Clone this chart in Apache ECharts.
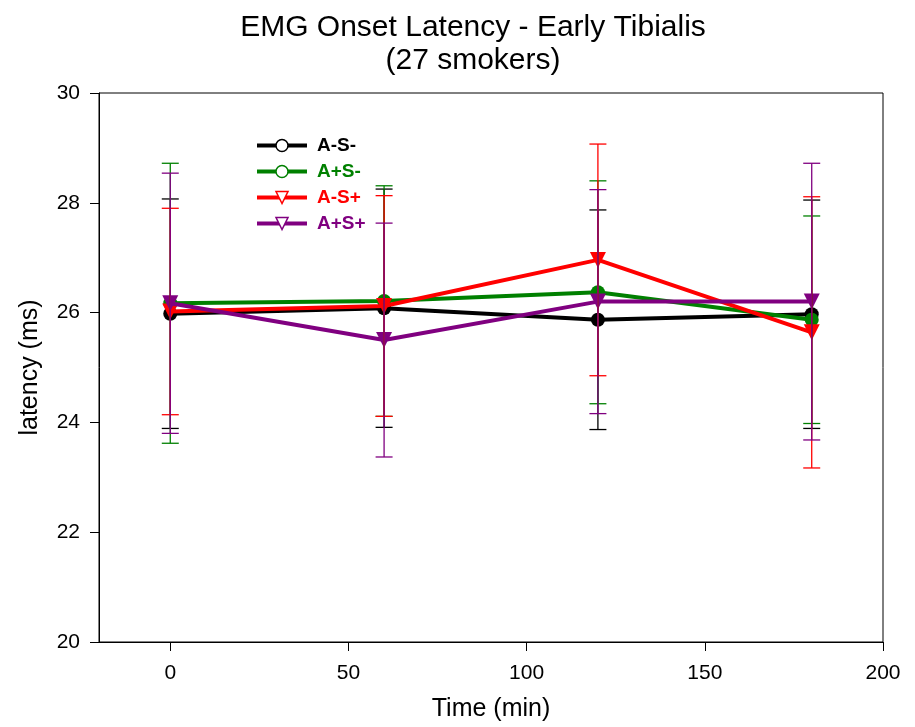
<!DOCTYPE html>
<html>
<head>
<meta charset="utf-8">
<script src="https://cdn.jsdelivr.net/npm/echarts@6/dist/echarts.min.js"></script>
<style>html,body{margin:0;padding:0;background:#fff}#c{width:915px;height:727px}</style>
</head>
<body>
<div id="c"></div>
<script>
var times = [0, 60, 120, 180];
var xTicks = [0, 50, 100, 150, 200];
var names = ['A-S-', 'A+S-', 'A-S+', 'A+S+'];
var colors = ['#000000', '#008000', '#ff0000', '#800080'];
var symbols = ['circle', 'circle', 'triangle', 'triangle'];
var meanAmSm = [25.98, 26.08, 25.87, 25.97];
var errAmSm  = [2.09, 2.17, 2.00, 2.08];
var meanApSm = [26.17, 26.21, 26.37, 25.87];
var errApSm  = [2.55, 2.10, 2.03, 1.89];
var meanAmSp = [26.02, 26.12, 26.96, 25.64];
var errAmSp  = [1.88, 2.01, 2.11, 2.47];
var meanApSp = [26.17, 25.50, 26.20, 26.20];
var errApSp  = [2.37, 2.13, 2.04, 2.52];

var means = [meanAmSm, meanApSm, meanAmSp, meanApSp];
var errs = [errAmSm, errApSm, errAmSp, errApSp];

var chart = echarts.init(document.getElementById('c'));
var font = 'Liberation Sans, Arial, sans-serif';
var series = [];
names.forEach(function (n, i) {
  series.push({
    name: n, type: 'line',
    data: times.map(function (t, k) { return [t, means[i][k]]; }),
    symbol: symbols[i], symbolRotate: symbols[i] === 'triangle' ? 180 : 0,
    symbolSize: symbols[i] === 'triangle' ? 16 : 14,
    lineStyle: { color: colors[i], width: 4 },
    itemStyle: { color: colors[i] },
    z: 2 + i
  });
});
names.forEach(function (n, i) {
  series.push({
    type: 'custom', name: n + ' err', silent: true, z: 10 + i,
    data: times.map(function (t, k) { return [t, means[i][k] - errs[i][k], means[i][k] + errs[i][k]]; }),
    renderItem: function (params, api) {
      var x = api.value(0);
      var lo = api.coord([x, api.value(1)]);
      var hi = api.coord([x, api.value(2)]);
      var w = 8.5;
      var st = { stroke: colors[i], lineWidth: 1.3 };
      return { type: 'group', children: [
        { type: 'line', shape: { x1: lo[0], y1: lo[1], x2: hi[0], y2: hi[1] }, style: st },
        { type: 'line', shape: { x1: lo[0] - w, y1: lo[1], x2: lo[0] + w, y2: lo[1] }, style: st },
        { type: 'line', shape: { x1: hi[0] - w, y1: hi[1], x2: hi[0] + w, y2: hi[1] }, style: st }
      ]};
    }
  });
});

chart.setOption({
  animation: false,
  backgroundColor: '#fff',
  title: [
    { text: 'EMG Onset Latency - Early Tibialis', left: 468, top: 8, textAlign: 'center',
      textStyle: { fontFamily: font, fontSize: 30, fontWeight: 'normal', color: '#000' } },
    { text: '(27 smokers)', left: 468, top: 41, textAlign: 'center',
      textStyle: { fontFamily: font, fontSize: 30, fontWeight: 'normal', color: '#000' } }
  ],
  legend: {
    orient: 'vertical', left: 255, top: 136, padding: 0, itemWidth: 50, itemHeight: 15, itemGap: 7,
    data: names.map(function (n, i) {
      return { name: n,
        textStyle: { color: colors[i], fontWeight: 'bold', fontSize: 19, fontFamily: font, padding: [0, 0, 0, 5] },
        lineStyle: { color: colors[i], width: 4 },
        itemStyle: { color: '#fff', borderColor: colors[i], borderWidth: 1.5 } };
    })
  },
  grid: { left: 99, right: 32, top: 93, bottom: 84, show: true, borderColor: '#000', borderWidth: 1 },
  xAxis: {
    type: 'value', min: -20, max: 200, name: 'Time (min)', nameLocation: 'middle', nameGap: 55,
    nameTextStyle: { fontFamily: font, fontSize: 25, color: '#000' },
    axisLine: { onZero: false, lineStyle: { color: '#000', width: 1 } },
    axisTick: { inside: false, length: 9, lineStyle: { color: '#000' }, customValues: xTicks },
    axisLabel: { fontFamily: font, fontSize: 21, color: '#000', margin: 21, customValues: xTicks },
    splitLine: { show: false }
  },
  yAxis: {
    type: 'value', min: 20, max: 30, interval: 2, name: 'latency (ms)', nameLocation: 'middle', nameGap: 56,
    nameTextStyle: { fontFamily: font, fontSize: 25, color: '#000' },
    axisLine: { show: true, onZero: false, lineStyle: { color: '#000', width: 1 } },
    axisTick: { show: true, length: 9, lineStyle: { color: '#000' } },
    axisLabel: { fontFamily: font, fontSize: 21, color: '#000', margin: 19 },
    splitLine: { show: false }
  },
  series: series
});
</script>
</body>
</html>
